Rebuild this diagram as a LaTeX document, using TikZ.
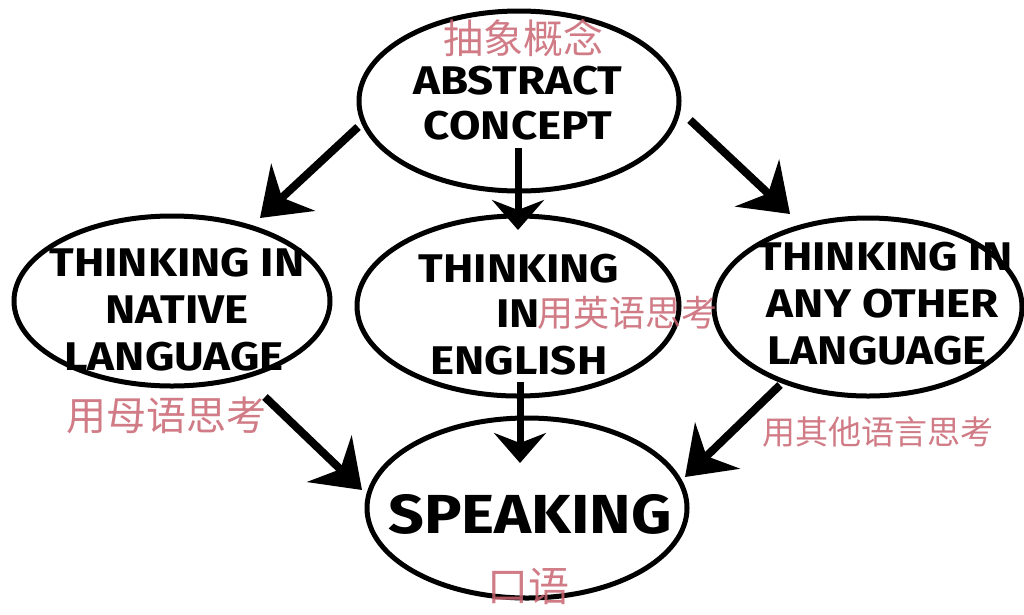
\documentclass[tikz,border=0pt]{standalone}
\usepackage{fontspec}
\usepackage{graphicx}
\setmainfont{Fira Sans}
\newfontfamily\cjk{Noto Sans CJK SC}
\usetikzlibrary{arrows.meta,shapes.geometric}
\definecolor{zhred}{RGB}{200,100,112}
\newcommand\widetxt[1]{\scalebox{1.14}[1]{#1}}
\begin{document}
\begin{tikzpicture}[x=1pt,y=-1pt,
 oval/.style={draw=black,line width=5pt,ellipse,inner sep=0pt},
 lbl/.style={font=\bfseries\fontsize{40}{40}\selectfont, inner sep=0pt, anchor=center},
 biglbl/.style={font=\bfseries\fontsize{55}{55}\selectfont, inner sep=0pt, anchor=center},
 zh/.style={text=zhred, inner sep=0pt, opacity=0.85},
 diag/.style={line width=8pt, -{Stealth[length=45pt,width=64pt,inset=15pt]}},
 vert/.style={line width=7pt, -{Stealth[length=30pt,width=52pt,inset=10pt]}}
]
\useasboundingbox (0,0) rectangle (1024,614);
\fill[white] (0,0) rectangle (1024,614);
% ovals
\node[oval,minimum width=320pt,minimum height=180pt] (abs) at (519,101) {};
\node[oval,minimum width=316pt,minimum height=170pt] (nat) at (172,301) {};
\node[oval,minimum width=322pt,minimum height=180pt] (eng) at (518,306) {};
\node[oval,minimum width=308pt,minimum height=178pt] (oth) at (868,307) {};
\node[oval,minimum width=320pt,minimum height=180pt] (spk) at (527,508) {};
% labels
\node[lbl] (t1) at (518,81) {\widetxt{ABSTRACT}};
\node[lbl] (t2) at (518,126) {\widetxt{CONCEPT}};
\node[lbl] (t3) at (177,263) {\widetxt{THINKING IN}};
\node[lbl] (t4) at (177,310) {\widetxt{NATIVE}};
\node[lbl] (t5) at (174,357) {\widetxt{LANGUAGE}};
\node[lbl] (t6) at (519,269) {\widetxt{THINKING}};
\node[lbl] (t7) at (518,314) {\widetxt{IN}};
\node[lbl] (t8) at (519,361) {\widetxt{ENGLISH}};
\node[lbl] (t9) at (885,257) {\widetxt{THINKING IN}};
\node[lbl] (t10) at (883,304) {\widetxt{ANY OTHER}};
\node[lbl] (t11) at (877,351) {\widetxt{LANGUAGE}};
\node[biglbl] (t12) at (530,514) {\widetxt{SPEAKING}};
% chinese
\node[zh,font=\cjk\fontsize{40}{40}\selectfont] (z1) at (523,38) {抽象概念};
\node[zh,font=\cjk\fontsize{40}{40}\selectfont] (z2) at (166,415) {用母语思考};
\node[zh,font=\cjk\fontsize{36}{36}\selectfont] (z3) at (627,313) {用英语思考};
\node[zh,font=\cjk\fontsize{33}{33}\selectfont] (z4) at (878,432) {用其他语言思考};
\node[zh,font=\cjk\fontsize{41}{41}\selectfont] (z5) at (528,586) {口语};
% arrows
\coordinate (a1s) at (358,127); \coordinate (a1e) at (260,218);
\coordinate (a2s) at (518,148); \coordinate (a2e) at (518,230);
\coordinate (a3s) at (690,120); \coordinate (a3e) at (790,214);
\coordinate (a4s) at (265,397); \coordinate (a4e) at (362,490);
\coordinate (a5s) at (520,382); \coordinate (a5e) at (520,463);
\coordinate (a6s) at (780,385); \coordinate (a6e) at (685,477);
\draw[diag] (a1s) -- (a1e);
\draw[vert] (a2s) -- (a2e);
\draw[diag] (a3s) -- (a3e);
\draw[diag] (a4s) -- (a4e);
\draw[vert] (a5s) -- (a5e);
\draw[diag] (a6s) -- (a6e);
\end{tikzpicture}
\end{document}
